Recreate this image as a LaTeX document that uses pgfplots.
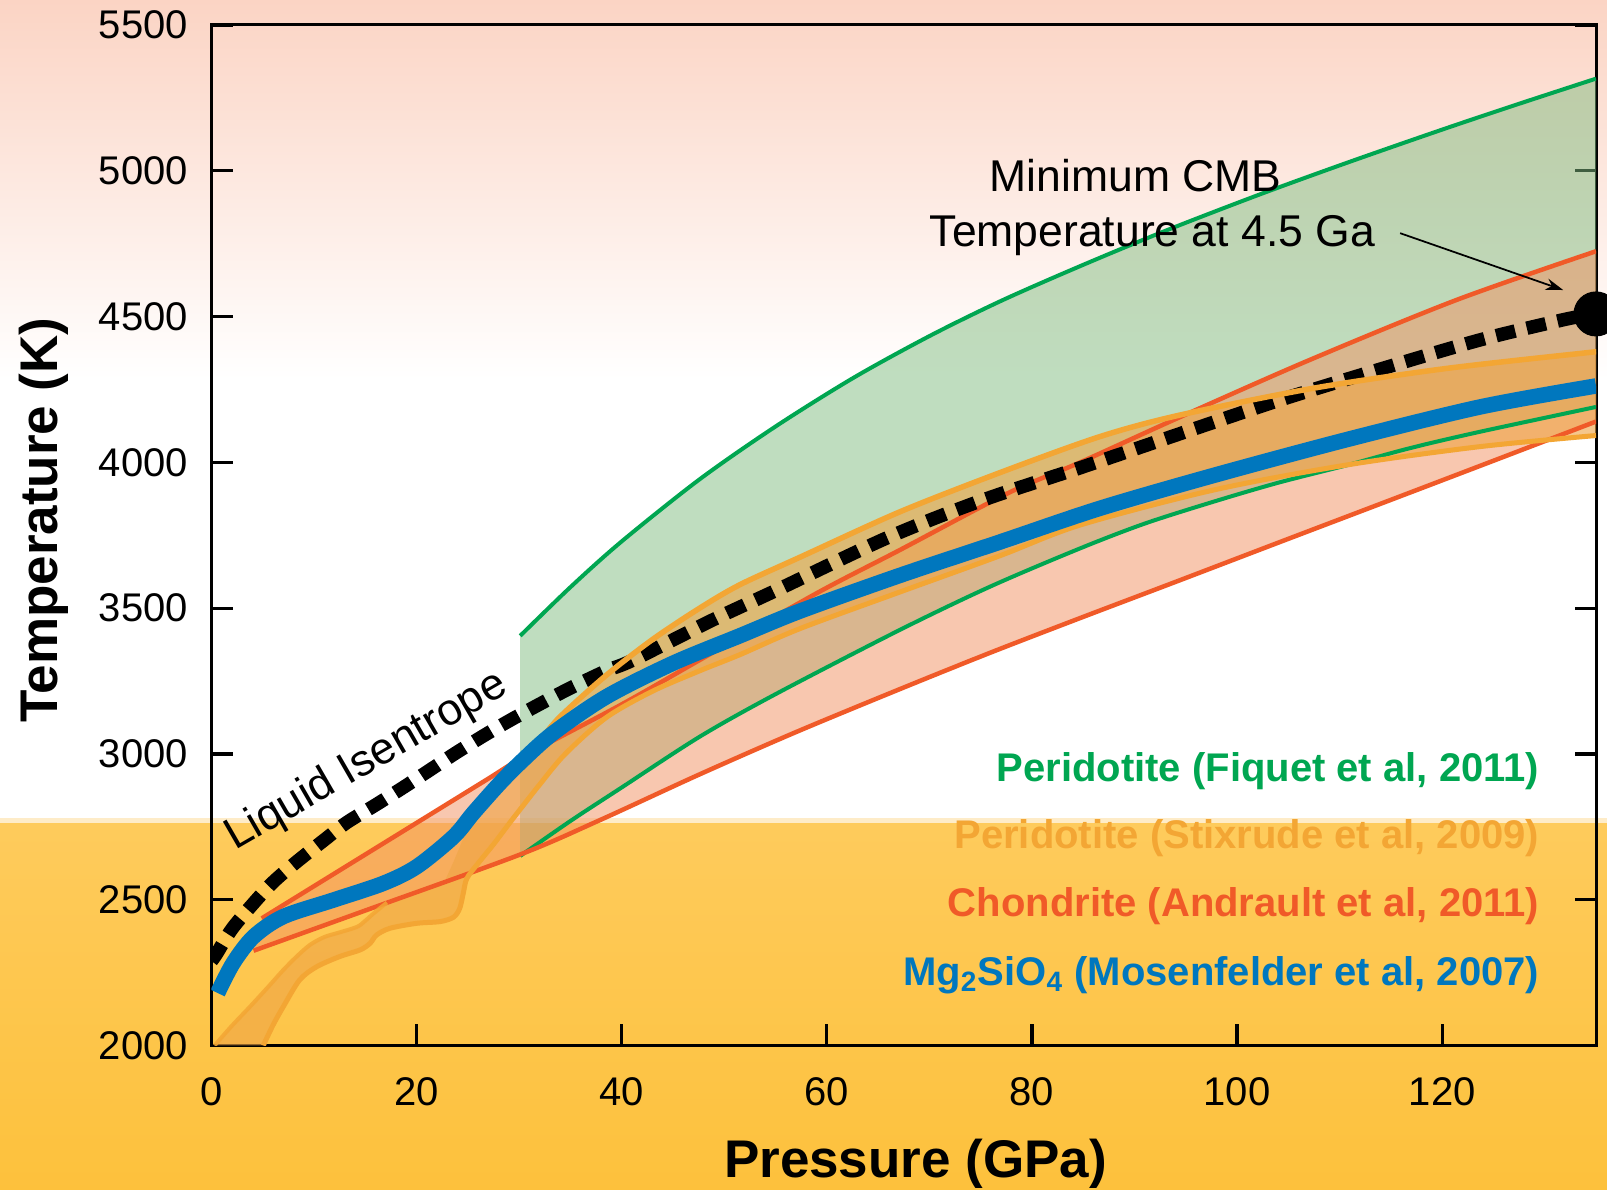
\documentclass[border=0pt]{standalone}
\usepackage{pgfplots}
\pgfplotsset{compat=1.18}
\usepackage{pgfplotstable}
\usetikzlibrary{arrows.meta}
\usepackage{fontspec}
\setmainfont{Liberation Sans}
\definecolor{fiqgreen}{RGB}{0,166,81}
\definecolor{stxorange}{RGB}{243,166,52}
\definecolor{andred}{RGB}{240,90,40}
\definecolor{mosblue}{RGB}{0,119,190}
\definecolor{gfill}{RGB}{129,189,129}
\definecolor{rfill}{RGB}{243,145,97}
\definecolor{ofill}{RGB}{239,165,70}
\definecolor{pinktop}{RGB}{251,212,196}
\definecolor{yeltop}{RGB}{254,203,92}
\definecolor{yelbot}{RGB}{253,193,60}
\definecolor{yelstrip}{RGB}{254,236,200}

% ---- Fiquet (green) ----
\pgfplotstableread{
P T
30.1 3405
35 3572
40 3729
47.6 3942
55 4123
62.6 4290
70 4433
77 4554
84.7 4673
93 4794
102.3 4920
111 5031
119.9 5140
127 5224
135 5316
}\greenU
\pgfplotstableread{
P T
30.1 2650
35 2770
40 2885
47.6 3059
55 3205
67.1 3425
76 3575
84.7 3705
91 3790
97.7 3865
104 3930
110.7 3990
117 4050
123.7 4105
135 4190
}\greenL
\pgfplotstableread{
P T
30.1 3405
35 3572
40 3729
47.6 3942
55 4123
62.6 4290
70 4433
77 4554
84.7 4673
93 4794
102.3 4920
111 5031
119.9 5140
127 5224
135 5316
135 4190
123.7 4105
117 4050
110.7 3990
104 3930
97.7 3865
91 3790
84.7 3705
76 3575
67.1 3425
55 3205
47.6 3059
40 2885
35 2770
30.1 2650
}\greenPoly
% ---- Andrault (red) ----
\pgfplotstableread{
P T
4.9 2436
12 2590
20.3 2770
26.8 2911
31 3002
40 3170
47.6 3322
59 3551
67.1 3699
77.7 3895
84.7 4000
94.1 4150
107 4350
121.4 4557
135 4724
}\redU
\pgfplotstableread{
P T
4.1 2325
15 2463
30.1 2655
38 2775
47.6 2930
57 3075
67.1 3222
76 3348
84.7 3466
94 3590
104.2 3727
114 3858
123.7 3988
135 4140
}\redL
\pgfplotstableread{
P T
4.9 2436
12 2590
20.3 2770
26.8 2911
31 3002
40 3170
47.6 3322
59 3551
67.1 3699
77.7 3895
84.7 4000
94.1 4150
107 4350
121.4 4557
135 4724
135 4140
123.7 3988
114 3858
104.2 3727
94 3590
84.7 3466
76 3348
67.1 3222
57 3075
47.6 2930
38 2775
30.1 2655
15 2463
4.1 2325
}\redPoly
% ---- Stixrude (orange) ----
\pgfplotstableread{
P T
0.3 2000
2 2068
3.75 2133
5.5 2200
7 2259
8.3 2305
9.6 2345
11 2372
12.5 2388
14.2 2407
15 2428
15.8 2453
17.1 2490
}\oraA
\pgfplotstableread{
P T
25.5 2790
28 2890
30 2965
32 3045
34 3128
38.5 3270
43.1 3395
47.6 3500
51.5 3580
57.4 3675
67.1 3830
76.9 3965
86.6 4088
94.4 4162
107.4 4254
120.4 4322
134.1 4376
135 4379
}\oraU
\pgfplotstableread{
P T
5.05 2000
6 2070
7 2133
8.6 2225
10.25 2270
12.5 2305
14.5 2328
15.45 2350
16.1 2379
17.4 2402
20 2419
22.3 2425
23.6 2440
24.2 2470
24.55 2522
24.9 2573
26 2625
27.5 2690
29 2760
30.1 2810
32 2895
34.5 3000
38.5 3125
43 3215
47.6 3285
51.5 3340
57.4 3430
67.1 3555
76.9 3680
84.7 3785
97.7 3905
110.7 3991
123.7 4054
135 4092
}\oraL
\pgfplotstableread{
P T
0.3 2000
2 2068
3.75 2133
5.5 2200
7 2259
8.3 2305
9.6 2345
11 2372
12.5 2388
14.2 2407
15 2428
15.8 2453
17.1 2490
18.5 2508
20 2528
22.7 2560
23.6 2630
24.9 2739
25.5 2790
28 2890
30 2965
32 3045
34 3128
38.5 3270
43.1 3395
47.6 3500
51.5 3580
57.4 3675
67.1 3830
76.9 3965
86.6 4088
94.4 4162
107.4 4254
120.4 4322
134.1 4376
135 4379
135 4092
123.7 4054
110.7 3991
97.7 3905
84.7 3785
76.9 3680
67.1 3555
57.4 3430
51.5 3340
47.6 3285
43 3215
38.5 3125
34.5 3000
32 2895
30.1 2810
29 2760
27.5 2690
26 2625
24.9 2573
24.55 2522
24.2 2470
23.6 2440
22.3 2425
20 2419
17.4 2402
16.1 2379
15.45 2350
14.5 2328
12.5 2305
10.25 2270
8.6 2225
7 2133
6 2070
5.05 2000
}\oraPoly
% ---- Mosenfelder (blue) ----
\pgfplotstableread{
P T
0.6 2180
2.1 2282
4.1 2373
7 2442
11.9 2499
16.75 2556
20 2613
23.6 2716
25.5 2796
28 2895
30.1 2970
33.3 3071
38.5 3196
45 3311
51.5 3405
57.4 3490
67.1 3612
76.9 3727
86.6 3842
97.7 3955
110.7 4078
123.7 4190
135 4262
}\blueL
% ---- Liquid isentrope ----
\pgfplotstableread{
P T
0 2290
0.5 2315
2 2400
4.1 2488
6 2560
8.3 2630
11 2705
13.2 2765
16 2825
18.7 2885
21.3 2945
23.9 3005
26.8 3068
29.76 3128
34.6 3219
38.5 3285
41.1 3322
48.9 3460
55 3560
65.8 3740
75 3868
85 3985
95 4105
104.2 4214
114 4320
123.7 4420
131.8 4489
135 4510
}\isen

\begin{document}
\begin{tikzpicture}
\fill[white] (-84.6pt,-57.8pt) rectangle (558.2pt,418.2pt);
\shade[top color=pinktop, bottom color=white] (-84.6pt,266.2pt) rectangle (558.2pt,418.2pt);
\fill[yelstrip] (-84.6pt,88.9pt) rectangle (558.2pt,90.9pt);
\shade[top color=yeltop, bottom color=yelbot] (-84.6pt,-57.8pt) rectangle (558.2pt,88.9pt);
\begin{axis}[
  scale only axis, width=553.8pt, height=408.2pt,
  xmin=0, xmax=135, ymin=2000, ymax=5500,
  xtick={0,20,...,120}, ytick={2000,2500,...,5500},
  xtick pos=left, ytick pos=both,
  tick align=inside,
  major tick length=8.6pt,
  major tick style={line width=1.3pt, black},
  axis line style={line width=1.2pt},
  /pgf/number format/assume math mode=true,
  /pgf/number format/1000 sep={},
  tick label style={font=\fontsize{16}{16}\selectfont},
  yticklabel style={inner sep=0pt, xshift=-9.3pt},
  xticklabel style={inner sep=0pt, yshift=-12.5pt},
  xlabel={Pressure (GPa)}, ylabel={Temperature (K)},
  every axis x label/.style={at={(axis description cs:0.5085,-0.1298)}, anchor=base, font=\fontsize{21.2}{21.2}\selectfont\bfseries},
  every axis y label/.style={at={(axis description cs:-0.1112,0.5148)}, anchor=base, rotate=90, font=\fontsize{21.2}{21.2}\selectfont\bfseries},
]
% fills
\addplot[fill=gfill, fill opacity=0.5, draw=none] table[x=P,y=T] {\greenPoly};
\addplot[fill=rfill, fill opacity=0.5, draw=none] table[x=P,y=T] {\redPoly};
\addplot[fill=ofill, fill opacity=0.62, draw=none] table[x=P,y=T] {\oraPoly};
% lines
\addplot[fiqgreen, line width=1.6pt, smooth] table[x=P,y=T] {\greenU};
\addplot[fiqgreen, line width=1.6pt, smooth] table[x=P,y=T] {\greenL};
\addplot[andred, line width=1.8pt, smooth] table[x=P,y=T] {\redU};
\addplot[andred, line width=1.8pt, smooth] table[x=P,y=T] {\redL};
\addplot[black, line width=5.4pt, dash pattern=on 7.8pt off 4.8pt, smooth] table[x=P,y=T] {\isen};
\addplot[stxorange, line width=1.6pt, opacity=0.85, smooth] table[x=P,y=T] {\oraA};
\addplot[stxorange, line width=2.2pt, smooth] table[x=P,y=T] {\oraU};
\addplot[stxorange, line width=2.0pt, smooth] table[x=P,y=T] {\oraL};
\addplot[mosblue, line width=6.2pt, smooth] table[x=P,y=T] {\blueL};
\addplot[only marks, mark=*, mark size=8.8pt, black] coordinates {(135,4509)};
% annotations
\node[anchor=base, inner sep=0pt, font=\fontsize{17.8}{17.8}\selectfont] at (axis cs:90.1,4928) {Minimum CMB};
\node[anchor=base, inner sep=0pt, font=\fontsize{17.8}{17.8}\selectfont] at (axis cs:91.75,4742) {Temperature at 4.5 Ga};
\draw[line width=0.7pt, -{Stealth[length=7pt,width=4.6pt]}] (axis cs:115.9,4786) -- (axis cs:131.8,4591);
\node[rotate=30, anchor=base, inner sep=0pt, font=\fontsize{17.8}{17.8}\selectfont] at (axis cs:15.7,2939) {Liquid Isentrope};
\node[anchor=base east, inner sep=0pt, font=\fontsize{16}{16}\selectfont\bfseries, text=fiqgreen] at (axis cs:129.5,2905) {Peridotite (Fiquet et al, 2011)};
\node[anchor=base east, inner sep=0pt, font=\fontsize{16}{16}\selectfont\bfseries, text=stxorange] at (axis cs:129.5,2676) {Peridotite (Stixrude et al, 2009)};
\node[anchor=base east, inner sep=0pt, font=\fontsize{16}{16}\selectfont\bfseries, text=andred] at (axis cs:129.5,2442) {Chondrite (Andrault et al, 2011)};
\node[anchor=base east, inner sep=0pt, font=\fontsize{16}{16}\selectfont\bfseries, text=mosblue] at (axis cs:129.5,2207) {Mg\textsubscript{2}SiO\textsubscript{4} (Mosenfelder et al, 2007)};
\end{axis}
\pgfresetboundingbox
\path[use as bounding box] (-84.6pt,-57.8pt) rectangle (558.2pt,418.2pt);
\end{tikzpicture}
\end{document}
